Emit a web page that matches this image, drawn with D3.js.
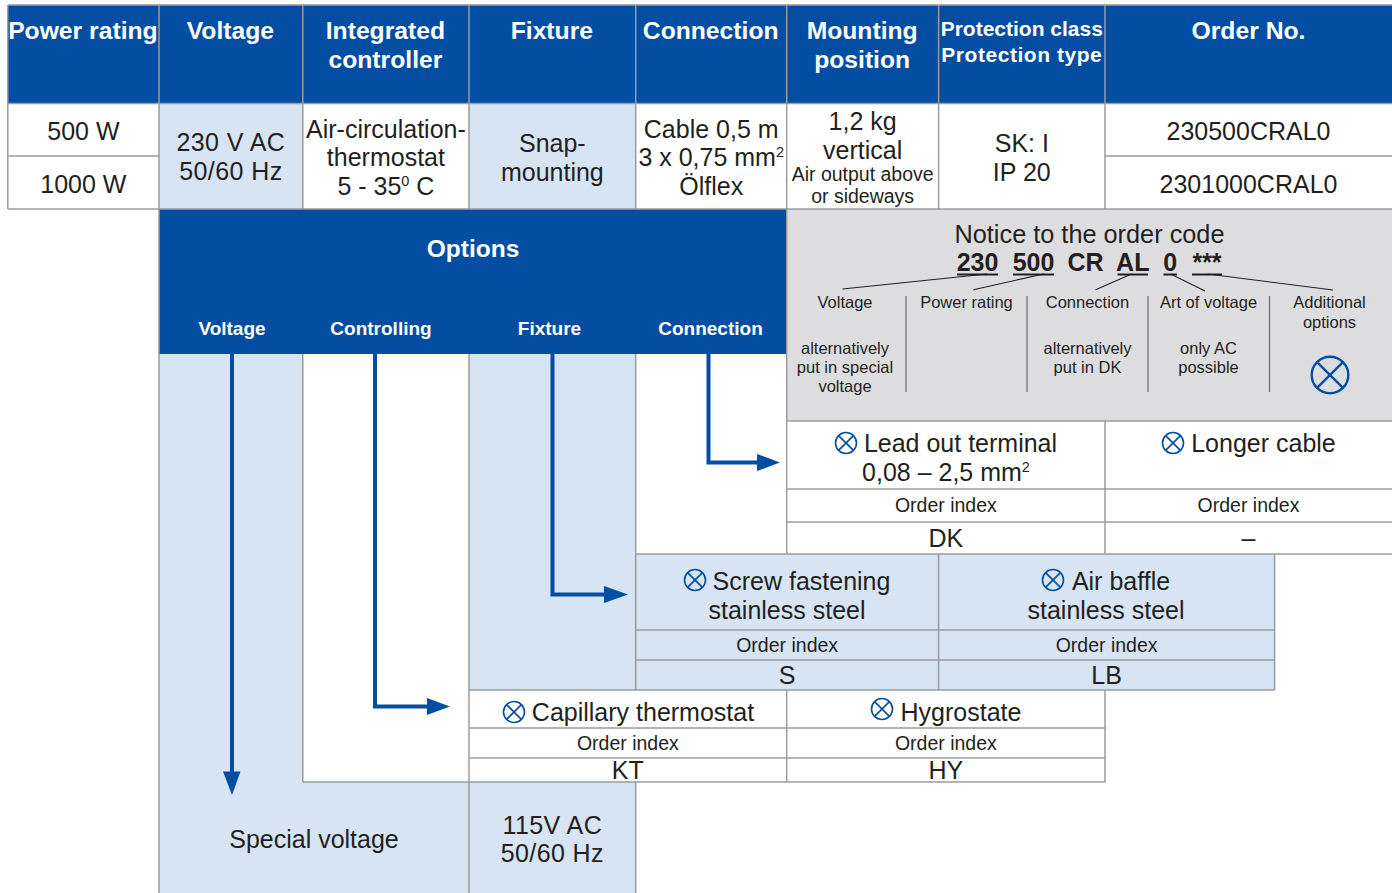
<!DOCTYPE html>
<html>
<head>
<meta charset="utf-8">
<title>Order table</title>
<script src="https://cdn.jsdelivr.net/npm/d3@7"></script>
<style>
	html, body {margin: 0; padding: 0; background: #fff; overflow: hidden;}
	svg {display: block; font-family: "Liberation Sans", Arial, sans-serif;}
</style>
</head>
<body>
<div id="chart"></div>
<script>
// table texts ("^" toggles superscript)
const HEADERS = [["Power rating"], ["Voltage"], ["Integrated", "controller"], ["Fixture"], ["Connection"], ["Mounting", "position"]];
const PROTECTION_HEADER = ["Protection class", "Protection type"];
const ORDER_HEADER = ["Order No."];
const POWER_RATINGS = ["500 W", "1000 W"];
const ORDER_NUMBERS = ["230500CRAL0", "2301000CRAL0"];
const VOLTAGE = ["230 V AC", "50/60 Hz"];
const CONTROLLER = ["Air-circulation-", "thermostat", "5 - 35^0^ C"];
const FIXTURE = ["Snap-", "mounting"];
const CONNECTION = ["Cable 0,5 m", "3 x 0,75 mm^2^", "Ölflex"];
const MOUNTING = ["1,2 kg", "vertical"];
const MOUNTING_NOTE = ["Air output above", "or sideways"];
const PROTECTION = ["SK: I", "IP 20"];

const OPTIONS_TITLE = "Options";
const OPTION_COLUMNS = ["Voltage", "Controlling", "Fixture", "Connection"];

const NOTICE_TITLE = "Notice to the order code";
const CODE_PARTS = ["230", "500", "CR", "AL", "0", "***"];
const NOTICE_HEADS = [["Voltage"], ["Power rating"], ["Connection"], ["Art of voltage"], ["Additional", "options"]];
const NOTICE_NOTES = [["alternatively", "put in special", "voltage"], [], ["alternatively", "put in DK"], ["only AC", "possible"], []];

const INDEX_LABEL = "Order index";
const CONNECTION_OPTIONS = [["Lead out terminal", "0,08 – 2,5 mm^2^"], ["Longer cable"]];
const CONNECTION_CODES = ["DK", "–"];
const FIXTURE_OPTIONS = [["Screw fastening", "stainless steel"], ["Air baffle", "stainless steel"]];
const FIXTURE_CODES = ["S", "LB"];
const CONTROL_OPTIONS = ["Capillary thermostat", "Hygrostate"];
const CONTROL_CODES = ["KT", "HY"];
const SPECIAL_LABEL = "Special voltage";
const SPECIAL_VALUE = ["115V AC", "50/60 Hz"];

// frame and colours
const FRAME_WIDTH = 1392;
const FRAME_HEIGHT = 893;
const BLUE = "#034EA2";
const PALE = "#D6E4F4";
const GREY = "#DDDDE0";
const RULE = "#9A9B9D";
const INK = "#231F20";

// grid lines of the table
const X = d3.scaleOrdinal().domain(d3.range(10))
			.range([7.8, 159, 302.8, 469, 635.7, 786.7, 938.6, 1105, 1274.6, 1392]);
const Y = d3.scaleOrdinal().domain(d3.range(16))
			.range([5, 103.5, 156, 209, 354, 421, 489, 522, 554, 630, 660, 690, 728, 758, 782, 893]);
const mid = (a, b) => (X(a) + X(b)) / 2;

const FRAME = d3.select("#chart")
				.append("svg")
					.attr("width", FRAME_WIDTH)
					.attr("height", FRAME_HEIGHT);

// filled areas: [col from, col to, row from, row to, colour]
const AREAS = [
	[0, 9, 0, 1, BLUE],
	[1, 2, 1, 3, PALE],
	[3, 4, 1, 3, PALE],
	[1, 5, 3, 4, BLUE],
	[5, 9, 3, 5, GREY],
	[1, 2, 4, 14, PALE],
	[3, 4, 4, 11, PALE],
	[1, 4, 14, 15, PALE],
	[4, 8, 8, 11, PALE]
];
FRAME.selectAll(".area")
		.data(AREAS)
		.enter()
		.append("rect")
			.attr("class", "area")
			.attr("x", (d) => {return X(d[0]);})
			.attr("width", (d) => {return X(d[1]) - X(d[0]);})
			.attr("y", (d) => {return Y(d[2]);})
			.attr("height", (d) => {return Y(d[3]) - Y(d[2]);})
			.attr("fill", (d) => {return d[4];});

// horizontal rules: [row, col from, col to]
const H_RULES = [
	[0, 0, 9], [1, 0, 9], [2, 0, 1], [2, 7, 9], [3, 0, 9],
	[5, 5, 9], [6, 5, 9], [7, 5, 9], [8, 4, 9],
	[9, 4, 8], [10, 4, 8], [11, 3, 8],
	[12, 3, 7], [13, 3, 7], [14, 2, 7]
];
// vertical rules: [col, row from, row to]
const V_RULES = [
	[0, 0, 3], [1, 0, 15], [2, 0, 3], [3, 0, 3], [4, 0, 3], [5, 0, 3], [6, 0, 3], [7, 0, 3],
	[5, 3, 8], [7, 5, 8],
	[2, 4, 14], [3, 4, 15], [4, 4, 8], [4, 14, 15],
	[4, 8, 11], [6, 8, 11], [8, 8, 11],
	[5, 11, 14], [7, 11, 14]
];
FRAME.selectAll(".hrule")
		.data(H_RULES)
		.enter()
		.append("line")
			.attr("class", "hrule")
			.attr("x1", (d) => {return X(d[1]);})
			.attr("x2", (d) => {return X(d[2]);})
			.attr("y1", (d) => {return Y(d[0]);})
			.attr("y2", (d) => {return Y(d[0]);})
			.attr("stroke", RULE)
			.attr("stroke-width", 1.5);
FRAME.selectAll(".vrule")
		.data(V_RULES)
		.enter()
		.append("line")
			.attr("class", "vrule")
			.attr("x1", (d) => {return X(d[0]);})
			.attr("x2", (d) => {return X(d[0]);})
			.attr("y1", (d) => {return Y(d[1]);})
			.attr("y2", (d) => {return Y(d[2]);})
			.attr("stroke", RULE)
			.attr("stroke-width", 1.5);

// centered text, "^" switches to superscript and back
function label(x, y, str, size, opts) {
	opts = opts || {};
	const t = FRAME.append("text")
					.attr("x", x)
					.attr("y", y)
					.attr("text-anchor", "middle")
					.attr("font-size", size)
					.attr("font-weight", opts.bold ? 700 : 400)
					.attr("letter-spacing", opts.spacing || 0)
					.attr("fill", opts.fill || INK);
	const up = Math.round(size * 0.36);
	str.split("^").forEach((part, i) => {
		if (part === "") {return;}
		const sup = i % 2 == 1;
		t.append("tspan")
			.attr("dy", sup ? -up : (i > 0 ? up : 0))
			.attr("font-size", sup ? size * 0.58 : size)
			.text(part);
	});
	return t;
}

function lines(x, ys, strs, size, opts) {
	strs.forEach((s, i) => {label(x, ys[i], s, size, opts);});
}

// header row
const WHITE_BOLD = {bold: true, fill: "#fff"};
HEADERS.forEach((h, i) => {
	lines(mid(i, i + 1) - 0.5, [38.5, 67.5], h, 24.7, WHITE_BOLD);
});
label(mid(6, 7), 35.5, PROTECTION_HEADER[0], 21, WHITE_BOLD);
label(mid(6, 7), 61.5, PROTECTION_HEADER[1], 21, {bold: true, fill: "#fff", spacing: 0.55});
lines(mid(7, 9), [38.5], ORDER_HEADER, 24.7, WHITE_BOLD);

// product rows
const WIDE = {spacing: 0.4};
lines(mid(0, 1), [139.5, 192.5], POWER_RATINGS, 25);
lines(mid(1, 2), [151, 180], VOLTAGE, 25, WIDE);
lines(mid(2, 3), [137.5, 166, 194.5], CONTROLLER, 25);
lines(mid(3, 4), [152, 180.5], FIXTURE, 25);
lines(mid(4, 5), [137.5, 166, 194.5], CONNECTION, 25);
lines(mid(5, 6), [130, 158.5], MOUNTING, 25);
lines(mid(5, 6), [180.5, 202.5], MOUNTING_NOTE, 19.5);
lines(mid(6, 7), [152, 180.5], PROTECTION, 25);
lines(mid(7, 9), [139.5, 192.5], ORDER_NUMBERS, 25);

// options panel
label(473, 257, OPTIONS_TITLE, 24.5, WHITE_BOLD);
const OPTION_CENTERS = [232, 381, 549.5, 710.5];
OPTION_COLUMNS.forEach((c, i) => {label(OPTION_CENTERS[i], 335, c, 19, WHITE_BOLD);});

// notice panel
label(1089.5, 243, NOTICE_TITLE, 25.3);
const CODE_SPANS = [[957, 998], [1013, 1054], [1069, 1102], [1117.5, 1148], [1163.5, 1177], [1192, 1222]];
CODE_PARTS.forEach((c, i) => {
	label((CODE_SPANS[i][0] + CODE_SPANS[i][1]) / 2, 271, c, 25, {bold: true});
	if (c != "CR") {
		FRAME.append("line")
				.attr("x1", CODE_SPANS[i][0]).attr("x2", CODE_SPANS[i][1])
				.attr("y1", 274.5).attr("y2", 274.5)
				.attr("stroke", INK).attr("stroke-width", 2);
	}
});

const LEADERS = [
	[987, 274, 842.5, 289], [1043.7, 274, 973.4, 289.7], [1131.6, 274, 1095.6, 289.7],
	[1170.6, 274, 1205, 291], [1207.7, 274, 1333, 290]
];
FRAME.selectAll(".leader")
		.data(LEADERS)
		.enter()
		.append("line")
			.attr("class", "leader")
			.attr("x1", (d) => {return d[0];})
			.attr("y1", (d) => {return d[1];})
			.attr("x2", (d) => {return d[2];})
			.attr("y2", (d) => {return d[3];})
			.attr("stroke", INK)
			.attr("stroke-width", 1.1);

const NOTICE_CENTERS = [845, 966.5, 1087.5, 1208.5, 1329.5];
NOTICE_HEADS.forEach((h, i) => {lines(NOTICE_CENTERS[i], [308, 328], h, 16.5);});
NOTICE_NOTES.forEach((n, i) => {lines(NOTICE_CENTERS[i], [354, 373, 392], n, 16.5);});
[906, 1027, 1148, 1269.5].forEach((x) => {
	FRAME.append("line")
			.attr("x1", x).attr("x2", x)
			.attr("y1", 296).attr("y2", 392)
			.attr("stroke", "#6D6E71")
			.attr("stroke-width", 1.2);
});

// circle with a cross marks optional extras
function optionMark(cx, cy, r, width) {
	const g = FRAME.append("g")
					.attr("transform", "translate(" + cx + "," + cy + ")")
					.attr("fill", "none")
					.attr("stroke", BLUE)
					.attr("stroke-width", width);
	const k = r * Math.SQRT1_2;
	g.append("circle").attr("r", r);
	g.append("line").attr("x1", -k).attr("y1", -k).attr("x2", k).attr("y2", k);
	g.append("line").attr("x1", -k).attr("y1", k).attr("x2", k).attr("y2", -k);
}
optionMark(1330, 375, 18.3, 2.4);

// connection options
optionMark(846, 443, 10.5, 1.6);
optionMark(1173, 443, 10.5, 1.6);
label(960.5, 451.5, CONNECTION_OPTIONS[0][0], 25);
label(946, 481, CONNECTION_OPTIONS[0][1], 25);
label(1263.5, 451.5, CONNECTION_OPTIONS[1][0], 25);
label(mid(5, 7), 512, INDEX_LABEL, 19.5);
label(mid(7, 9), 512, INDEX_LABEL, 19.5);
label(mid(5, 7), 547, CONNECTION_CODES[0], 25);
label(mid(7, 9), 547, CONNECTION_CODES[1], 25);

// fixture options
optionMark(695, 580, 10.5, 1.6);
optionMark(1053, 580, 10.5, 1.6);
label(801.5, 589.5, FIXTURE_OPTIONS[0][0], 25);
label(787, 618.5, FIXTURE_OPTIONS[0][1], 25);
label(1121, 589.5, FIXTURE_OPTIONS[1][0], 25);
label(1106, 618.5, FIXTURE_OPTIONS[1][1], 25);
label(mid(4, 6), 652, INDEX_LABEL, 19.5);
label(mid(6, 8), 652, INDEX_LABEL, 19.5);
label(mid(4, 6), 684, FIXTURE_CODES[0], 25);
label(mid(6, 8), 684, FIXTURE_CODES[1], 25);

// controller options
optionMark(514, 712, 10.5, 1.6);
optionMark(882, 709, 10.5, 1.6);
label(643, 720.5, CONTROL_OPTIONS[0], 25);
label(961, 720.5, CONTROL_OPTIONS[1], 25);
label(mid(3, 5), 750, INDEX_LABEL, 19.5);
label(mid(5, 7), 750, INDEX_LABEL, 19.5);
label(mid(3, 5), 779, CONTROL_CODES[0], 25);
label(mid(5, 7), 779, CONTROL_CODES[1], 25);

// special voltage
label(314, 847.5, SPECIAL_LABEL, 25);
lines(mid(3, 4), [833.5, 862], SPECIAL_VALUE, 25, WIDE);

// routing arrows: shaft points, then the three corners of the head
const ARROWS = [
	{path: [[232, 354], [232, 775]], head: [[223, 771.5], [240.5, 771.5], [232, 795]]},
	{path: [[375, 354], [375, 706.5], [430, 706.5]], head: [[427, 698], [427, 715], [450, 706.5]]},
	{path: [[552.5, 354], [552.5, 594.5], [607, 594.5]], head: [[604, 586], [604, 603], [628, 594.5]]},
	{path: [[708.5, 354], [708.5, 462.5], [760, 462.5]], head: [[757, 454], [757, 471], [780, 462.5]]}
];
const arrowLine = d3.line();
ARROWS.forEach((a) => {
	FRAME.append("path")
			.attr("d", arrowLine(a.path))
			.attr("fill", "none")
			.attr("stroke", BLUE)
			.attr("stroke-width", 4);
	FRAME.append("path")
			.attr("d", arrowLine(a.head) + "Z")
			.attr("fill", BLUE);
});
</script>
</body>
</html>
